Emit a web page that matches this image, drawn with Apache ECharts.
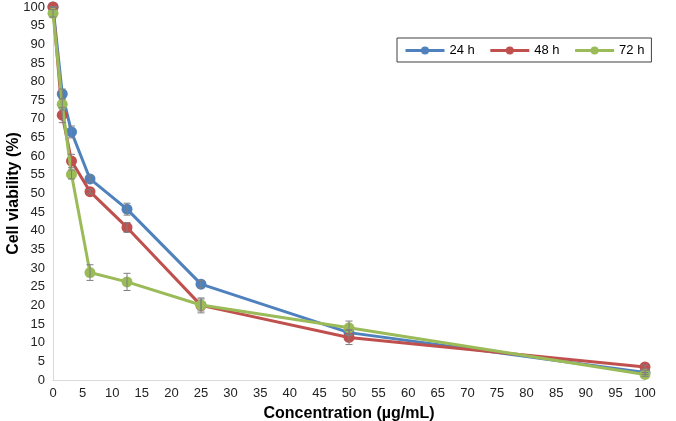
<!DOCTYPE html>
<html>
<head>
<meta charset="utf-8">
<script src="https://cdn.jsdelivr.net/npm/echarts@6/dist/echarts.min.js"></script>
<style>html,body{margin:0;padding:0;background:#fff;}#c{width:676px;height:421px;}</style>
</head>
<body>
<div id="c"></div>
<script>
var concentrations = [0, 1.5625, 3.125, 6.25, 12.5, 25, 50, 100];
var seriesNames = ['24 h', '48 h', '72 h'];
var v24 = [100, 76.7, 66.5, 53.9, 45.8, 25.7, 12.7, 2.0];
var v48 = [100, 71.0, 58.7, 50.5, 40.9, 20.0, 11.4, 3.5];
var v72 = [98.3, 73.9, 55.1, 28.8, 26.3, 20.1, 14.0, 1.5];
var e24 = [0, 1.3, 1.6, 0.8, 1.6, 1.0, 0.8, 0.5];
var e48 = [0, 2.0, 1.8, 0.6, 1.3, 2.0, 1.9, 0.5];
var e72 = [1.0, 1.5, 1.2, 2.1, 2.3, 1.6, 1.8, 0.5];
var colors = ['#4F81BD', '#C0504D', '#9BBB59'];

var values = [v24, v48, v72];
var errors = [e24, e48, e72];

function pairs(vals) { return concentrations.map(function (c, i) { return [c, vals[i]]; }); }
function errData(vals, errs) { return concentrations.map(function (c, i) { return [c, vals[i] - errs[i], vals[i] + errs[i]]; }); }

function renderErr(params, api) {
  var x = api.value(0);
  var lo = api.coord([x, api.value(1)]);
  var hi = api.coord([x, api.value(2)]);
  var w = 3.5;
  var st = { stroke: '#7f7f7f', lineWidth: 1 };
  return {
    type: 'group',
    children: [
      { type: 'line', shape: { x1: lo[0], y1: lo[1], x2: hi[0], y2: hi[1] }, style: st },
      { type: 'line', shape: { x1: lo[0] - w, y1: lo[1], x2: lo[0] + w, y2: lo[1] }, style: st },
      { type: 'line', shape: { x1: hi[0] - w, y1: hi[1], x2: hi[0] + w, y2: hi[1] }, style: st }
    ]
  };
}

var series = [];
for (var k = 0; k < 3; k++) {
  series.push({
    name: seriesNames[k],
    type: 'line',
    data: pairs(values[k]),
    symbol: 'circle',
    symbolSize: 11,
    lineStyle: { width: 3, color: colors[k] },
    itemStyle: { color: colors[k] },
    z: 2 + k
  });
}
for (var k2 = 0; k2 < 3; k2++) {
  series.push({
    type: 'custom',
    renderItem: renderErr,
    data: errData(values[k2], errors[k2]),
    encode: { x: 0, y: [1, 2] },
    silent: true,
    z: 10
  });
}

var chart = echarts.init(document.getElementById('c'), null, { renderer: 'canvas' });
chart.setOption({
  animation: false,
  backgroundColor: '#fff',
  textStyle: { fontFamily: 'Liberation Sans, Arial, sans-serif' },
  grid: { left: 53, right: 31, top: 7, bottom: 41, containLabel: false, outerBoundsMode: 'none' },
  legend: {
    data: seriesNames,
    orient: 'horizontal',
    left: 397,
    top: 38,
    padding: [6, 7, 5, 7],
    itemGap: 14,
    itemWidth: 39,
    itemHeight: 10,
    lineStyle: { width: 3 },
    borderColor: '#404040',
    borderWidth: 1,
    textStyle: { fontSize: 13, color: '#000', fontFamily: 'Liberation Sans, Arial, sans-serif' }
  },
  xAxis: {
    type: 'value',
    min: 0,
    max: 100,
    interval: 5,
    name: 'Concentration (µg/mL)',
    nameLocation: 'middle',
    nameGap: 26,
    nameMoveOverlap: false,
    nameTextStyle: { fontSize: 16, fontWeight: 'bold', color: '#000' },
    axisLine: { show: true, lineStyle: { color: '#d9d9d9', width: 1 } },
    axisTick: { show: false },
    splitLine: { show: false },
    axisLabel: { fontSize: 13, color: '#222', margin: 7 }
  },
  yAxis: {
    type: 'value',
    min: 0,
    max: 100,
    interval: 5,
    name: 'Cell viability (%)',
    nameLocation: 'middle',
    nameGap: 31,
    nameMoveOverlap: false,
    nameTextStyle: { fontSize: 16, fontWeight: 'bold', color: '#000' },
    axisLine: { show: true, lineStyle: { color: '#d9d9d9', width: 1 } },
    axisTick: { show: false },
    splitLine: { show: false },
    axisLabel: { fontSize: 13, color: '#222', margin: 8 }
  },
  series: series
});
</script>
</body>
</html>
